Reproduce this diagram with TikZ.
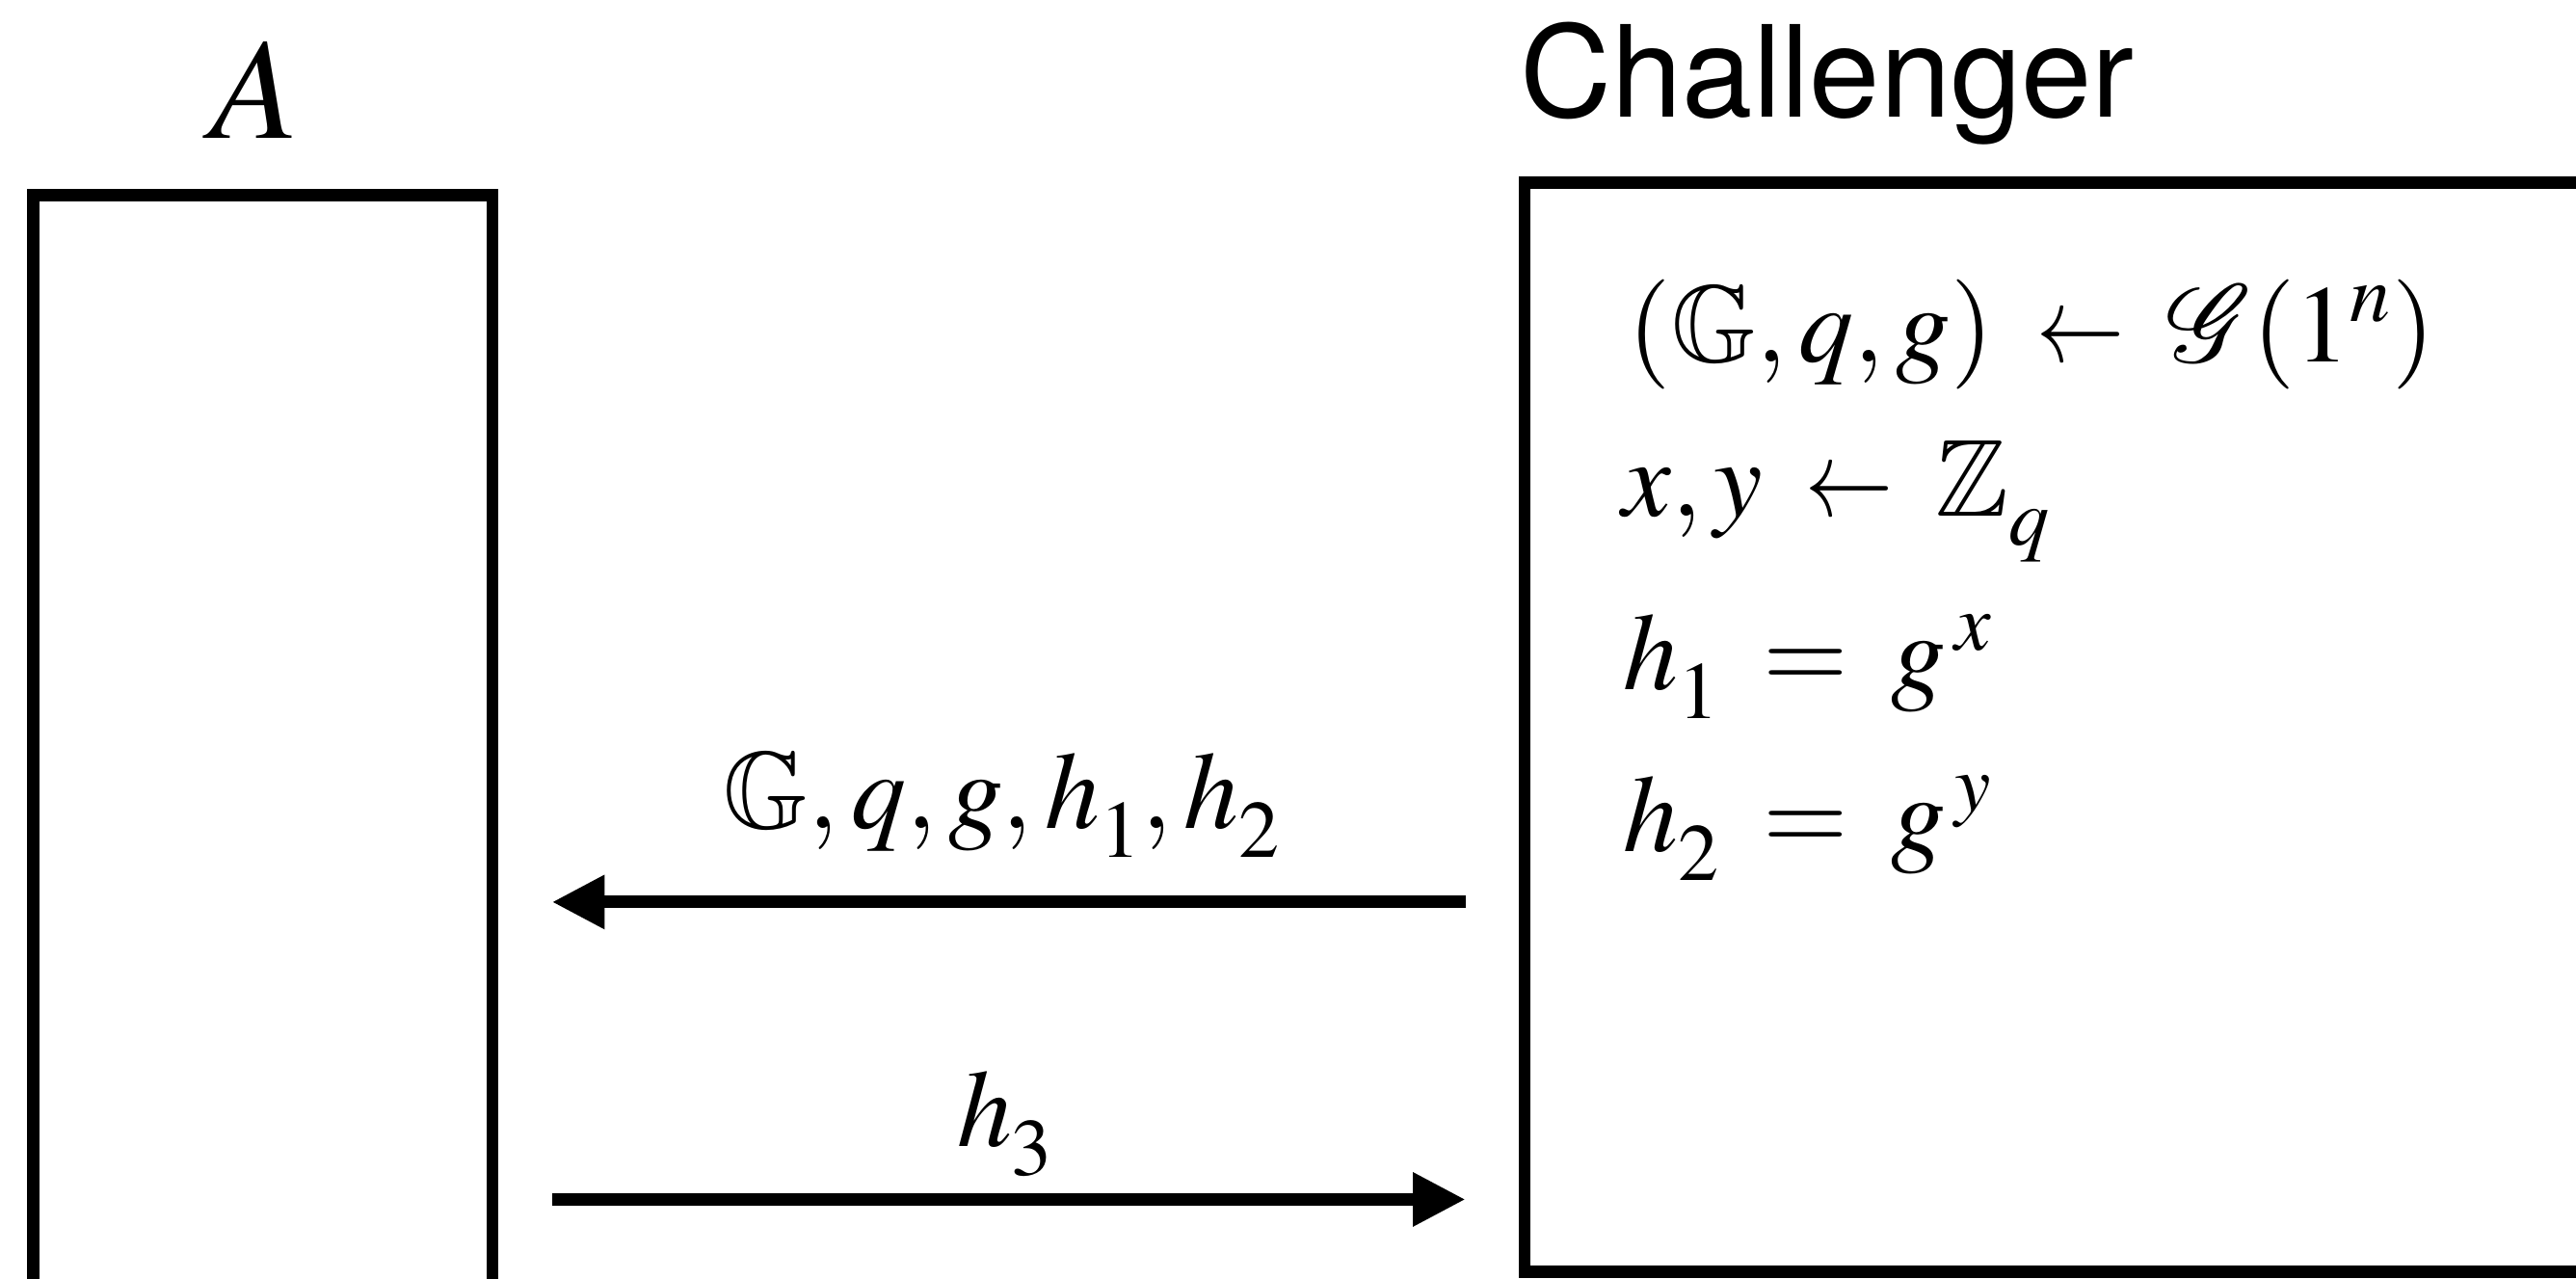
\documentclass[tikz,border=0pt]{standalone}
\usepackage{mathptmx}
\usepackage{amssymb}
\usepackage{graphicx}
\usepackage[no-math]{fontspec}
\usetikzlibrary{arrows.meta,positioning}
\newfontfamily\chalfont{TeX Gyre Heros}
% subscripts sit a little lower, relations a little wider, a shorter arrow
\newcommand{\lowsubs}{\fontdimen16\textfont2=10pt\relax}
\newcommand{\getsfrom}{\mathrel{\scalebox{0.8}[1]{$\leftarrow$}}}
\thickmuskip=7mu plus 2mu
\tikzset{
	party/.style={draw,line width=4.3pt,inner sep=0pt},
	msg/.style={line width=4.3pt,-{Triangle[length=6.4mm,width=6.2mm]}},
	mtext/.style={font=\fontsize{38}{46}\selectfont,anchor=base,inner sep=0pt},
	steptext/.style={mtext,anchor=base west},
}
\begin{document}
\begin{tikzpicture}[x=0.2mm,y=-0.2mm]
	\useasboundingbox (0,0) rectangle (1568,778);
	% the two parties
	\node[party,minimum width=55.9mm,minimum height=160.2mm] (adv) at (160,519.5) {};
	\node[party,minimum width=164.4mm,minimum height=132.6mm] (chal) at (1339,442.5) {};
	\node[font=\fontsize{50}{60}\selectfont,anchor=base,inner sep=0pt] (advname) at (155,84) {$A$};
	\node[font=\chalfont\fontsize{44}{52}\selectfont,anchor=base west,inner sep=0pt] (chalname) at (925,71) {Challenger};
	% what the challenger does
	\node[steptext] (line1) at (991,220) {$\lowsubs(\mathbb{G},q,g)\getsfrom\mathcal{G}(1^n)$};
	\node[steptext] (line2) at (987,314) {$\lowsubs x,y\getsfrom\mathbb{Z}_q$};
	\node[steptext] (line3) at (988,420) {$\lowsubs h_1=g^{\mkern2mu x}$};
	\node[steptext] (line4) at (988,518) {$\lowsubs h_2=g^{\mkern2mu y}$};
	% messages
	\coordinate (out1) at (892,549);
	\coordinate (in1) at (336,549);
	\coordinate (out2) at (336,730);
	\coordinate (in2) at (892,730);
	\draw[msg] (out1) -- (in1);
	\draw[msg] (out2) -- (in2);
	\node[mtext] (msg1) at (610,504) {$\lowsubs\mathbb{G},q,g,h_1,h_2$};
	\node[mtext] (msg2) at (612,698) {$\lowsubs h_3$};
\end{tikzpicture}
\end{document}
